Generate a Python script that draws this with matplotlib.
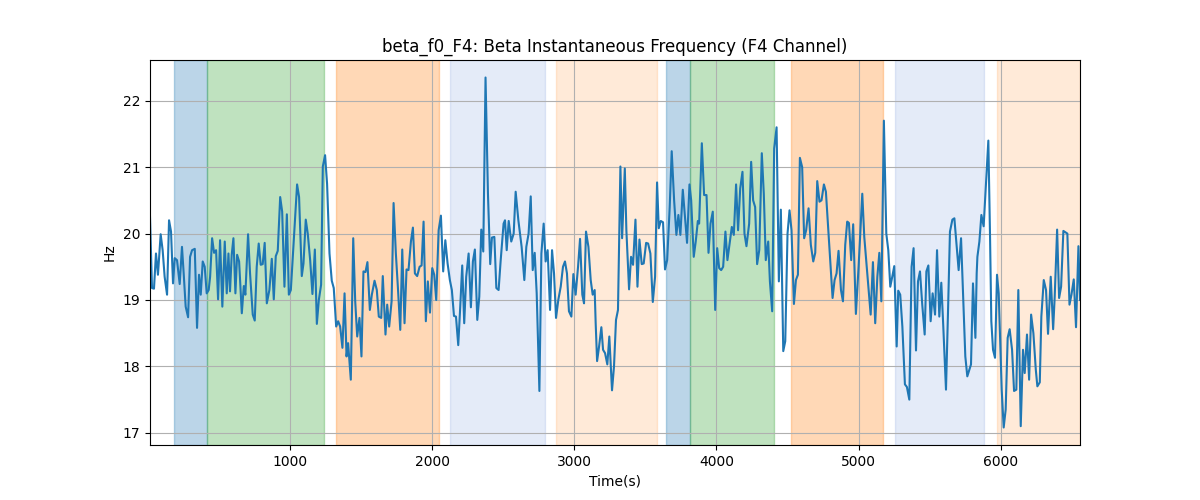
import matplotlib
matplotlib.use("Agg")
import matplotlib.pyplot as plt

time_s = [14, 28, 42, 56, 70, 89, 103, 117, 134, 148, 162, 176, 188, 204, 223, 239, 251, 265, 282, 296,
          310, 329, 345, 359, 371, 385, 399, 413, 427, 437, 451, 465, 479, 493, 507, 523, 540, 554, 566, 577,
          589, 601, 615, 627, 641, 660, 674, 685, 704, 718, 737, 751, 765, 779, 793, 807, 821, 836,
          854, 871, 885, 899, 913, 930, 944, 960, 977, 991, 1005, 1019, 1035, 1049, 1063, 1082, 1094, 1110,
          1124, 1141, 1157, 1174, 1188, 1202, 1218, 1230, 1246, 1260, 1277, 1293, 1307, 1324, 1338, 1352,
          1368, 1383, 1397, 1408, 1427, 1444, 1458, 1472, 1488, 1502, 1516, 1530, 1544, 1561, 1575, 1594,
          1610, 1624, 1641, 1652, 1671,
          1683, 1697, 1714, 1728, 1744, 1758, 1775, 1789, 1805, 1819, 1833, 1850, 1864, 1878, 1894, 1911,
          1925, 1939, 1955, 1969, 1984, 2000, 2014, 2028, 2045, 2061, 2077, 2092, 2108, 2124, 2138, 2153,
          2167, 2183, 2197, 2211, 2225, 2239, 2256, 2272, 2286, 2300, 2317, 2331, 2345, 2359, 2375, 2392,
          2408, 2420, 2437, 2451, 2467, 2481, 2502,
          2512, 2524, 2538, 2556, 2573, 2587, 2606, 2629, 2648, 2662, 2678, 2693, 2707, 2721, 2735, 2754,
          2768, 2784, 2798, 2812, 2829, 2843, 2857, 2871, 2887, 2904, 2920, 2934, 2948, 2962, 2979, 2993,
          3009, 3026, 3040, 3056, 3068, 3082, 3099, 3115, 3129, 3143, 3150, 3160, 3174, 3190, 3202, 3216,
          3232, 3246, 3265, 3279, 3293, 3307, 3324, 3336,
          3355, 3366, 3385, 3399, 3413, 3430, 3444, 3458, 3474, 3488, 3505, 3519, 3535, 3552, 3568, 3582,
          3594, 3608, 3624, 3638, 3653, 3671, 3685, 3702, 3718, 3732, 3746, 3763, 3779, 3793, 3810, 3822,
          3840, 3854, 3869, 3878, 3897, 3913, 3930, 3944, 3958, 3974, 3991, 4005, 4019, 4033, 4047, 4063,
          4077, 4094, 4108, 4122, 4138, 4152, 4167,
          4183, 4197, 4211, 4230, 4244, 4258, 4272, 4286, 4301, 4319, 4333, 4347, 4364, 4376, 4392, 4406,
          4423, 4439, 4453, 4470, 4484, 4500, 4514, 4528, 4545, 4559, 4573, 4587, 4603, 4617, 4631, 4648,
          4664, 4681, 4695, 4709, 4725, 4739, 4756, 4770, 4789, 4817, 4831, 4845, 4859, 4876, 4890, 4906,
          4920, 4932, 4948, 4962, 4981, 5000,
          5026, 5040, 5056, 5085, 5101, 5117, 5132, 5146, 5160, 5178, 5195, 5209, 5223, 5237, 5251, 5268,
          5279, 5293, 5308, 5326, 5340, 5357, 5373, 5387, 5404, 5418, 5432, 5448, 5465, 5477, 5491, 5507,
          5521, 5538, 5552, 5568, 5582, 5596, 5615, 5629, 5643, 5660, 5674, 5704, 5721, 5735, 5751, 5765,
          5791, 5805, 5822, 5831,
          5836, 5850, 5864, 5880, 5913, 5925, 5934, 5946, 5960, 5974, 5986, 6007, 6021, 6035, 6049, 6063,
          6080, 6094, 6110, 6124, 6141, 6157, 6169, 6185, 6200, 6214, 6230, 6247, 6258, 6275, 6286, 6303,
          6319, 6333, 6352, 6369, 6380, 6397, 6411, 6425, 6441, 6469, 6484, 6498, 6514, 6530, 6547, 6558]

freq_hz = [20.25, 19.18, 19.17, 19.70, 19.38, 19.99, 19.75, 19.35, 19.08, 20.20, 20.03, 19.25, 19.63, 19.60, 19.24, 19.80, 19.40, 18.90, 18.74, 19.65,
           19.75, 19.77, 18.58, 19.38, 19.08, 19.58, 19.50, 19.10, 19.15, 19.35, 19.93, 19.71, 19.75, 19.01, 19.90, 18.90, 19.88, 19.10, 19.70, 19.13,
           19.68, 19.93, 19.10, 19.68, 19.58, 18.80, 19.21, 19.08, 19.99, 19.40, 18.78, 18.69, 19.50, 19.85, 19.53, 19.54, 19.86, 18.95,
           19.15, 19.62, 19.01, 19.66, 19.74, 20.55, 20.33, 19.20, 20.29, 19.08, 19.15, 19.65, 20.20, 20.74, 20.55, 19.36, 19.55, 20.21,
           20.00, 19.60, 19.09, 19.76, 18.64, 19.00, 19.23, 21.01, 21.18, 20.75, 19.70, 19.29, 19.18, 18.60, 18.68, 18.60,
           18.28, 19.10, 18.15, 18.35, 17.80, 19.93, 18.98, 18.45, 18.73, 18.15, 19.43, 19.42, 19.57, 18.85, 19.08, 19.29,
           19.15, 18.75, 18.73, 19.36, 18.48,
           18.93, 18.60, 18.98, 20.46, 19.70, 19.20, 18.55, 19.76, 18.65, 19.46, 19.45, 19.88, 20.09, 19.40, 19.36, 19.50,
           19.52, 20.18, 18.68, 19.28, 18.81, 19.48, 19.38, 19.00, 20.05, 20.27, 19.43, 19.90, 19.55, 19.30, 19.15, 18.76,
           18.75, 18.32, 18.90, 19.52, 18.65, 19.35, 19.70, 18.89, 19.58, 19.76, 18.70, 19.05, 20.06, 19.73, 22.35, 20.60,
           19.54, 19.94, 19.95, 19.18, 19.15, 19.58, 20.15,
           20.20, 19.75, 20.19, 19.88, 20.00, 20.63, 20.20, 19.80, 19.30, 19.80, 20.00, 20.56, 19.45, 19.71, 19.10, 17.63,
           19.70, 20.15, 19.58, 19.75, 18.85, 19.75, 19.40, 18.73, 19.00, 19.20, 19.50, 19.58, 19.40, 18.83, 18.75, 19.39,
           19.08, 19.50, 19.92, 19.08, 18.95, 20.03, 19.80, 19.30, 19.08, 19.15, 18.65, 18.08, 18.30, 18.59, 18.25, 18.20,
           18.03, 18.45, 17.64, 18.00, 18.70, 18.85, 21.01, 19.93,
           20.98, 20.05, 19.16, 19.65, 19.53, 20.21, 19.20, 19.91, 19.54, 19.55, 19.86, 19.85, 19.70, 18.97, 19.35, 20.77,
           20.08, 20.19, 20.17, 19.46, 19.60, 20.40, 21.24, 20.50, 19.98, 20.28, 19.98, 20.66, 20.23, 19.86, 20.74, 20.50,
           19.65, 19.88, 20.19, 20.15, 21.36, 20.58, 20.58, 19.71, 20.15, 20.33, 18.85, 19.78, 19.48, 19.45, 19.50, 20.03,
           19.60, 19.88, 20.10, 19.98, 20.74, 20.05, 20.68,
           20.93, 20.00, 19.81, 20.15, 21.08, 20.50, 20.40, 19.54, 19.75, 21.21, 20.60, 19.60, 19.88, 19.28, 18.83, 21.28,
           21.60, 19.28, 20.36, 18.23, 18.38, 20.00, 20.35, 20.05, 18.94, 19.30, 19.38, 21.14, 21.00, 19.93, 20.05, 20.38,
           19.83, 19.58, 19.71, 20.79, 20.48, 20.50, 20.74, 20.63, 19.98, 19.03, 19.30, 19.40, 19.74, 19.15, 18.98, 19.83,
           20.18, 20.16, 19.60, 20.14, 18.79, 19.50,
           20.60, 19.95, 19.53, 18.78, 19.57, 18.65, 19.35, 19.71, 18.98, 21.70, 20.00, 19.75, 19.20, 19.35, 19.51, 18.30,
           19.14, 19.08, 18.60, 17.73, 17.69, 17.50, 19.50, 19.78, 18.24, 19.28, 19.43, 18.93, 18.48, 19.43, 19.52, 18.68,
           19.10, 18.78, 19.75, 18.75, 19.26, 18.60, 17.65, 18.80, 20.03, 20.21, 20.23, 19.45, 19.93, 19.10, 18.15, 17.85,
           18.03, 19.25, 18.43, 19.40,
           19.65, 19.88, 20.28, 20.11, 21.40, 19.95, 18.68, 18.25, 18.13, 19.38, 19.10, 17.65, 17.08, 17.35, 18.43, 18.56,
           18.25, 17.63, 17.65, 19.15, 17.10, 18.25, 17.90, 18.48, 17.80, 18.78, 18.50, 17.95, 17.70, 17.76, 18.75, 19.30,
           19.15, 18.49, 19.35, 18.56, 19.05, 20.06, 19.03, 19.20, 20.04, 20.00, 18.93, 19.08, 19.31, 18.59, 19.81, 19.00]

# shaded intervals: (start, end, colour, alpha)
span_start = [183, 418, 1324, 2127, 2869, 3648, 3812, 4521, 5254, 5972]
span_end = [418, 1237, 2045, 2793, 3582, 3812, 4406, 5174, 5883, 6558]
span_color = ["C0", "C2", "C1", "#3366cc", "C1", "C0", "C2", "C1", "#3366cc", "C1"]
span_alpha = [0.3, 0.3, 0.3, 0.13, 0.16, 0.3, 0.3, 0.3, 0.13, 0.16]

fig, ax = plt.subplots(figsize=(12, 5), dpi=100)
for s, e, c, a in zip(span_start, span_end, span_color, span_alpha):
    ax.axvspan(s, e, color=c, alpha=a)
ax.plot(time_s, freq_hz, color="C0", linewidth=1.5)
ax.set_xlim(time_s[0], time_s[-1])
ax.grid(True)
ax.set_title("beta_f0_F4: Beta Instantaneous Frequency (F4 Channel)")
ax.set_xlabel("Time(s)")
ax.set_ylabel("Hz")
fig.savefig("out.png", dpi=100)
